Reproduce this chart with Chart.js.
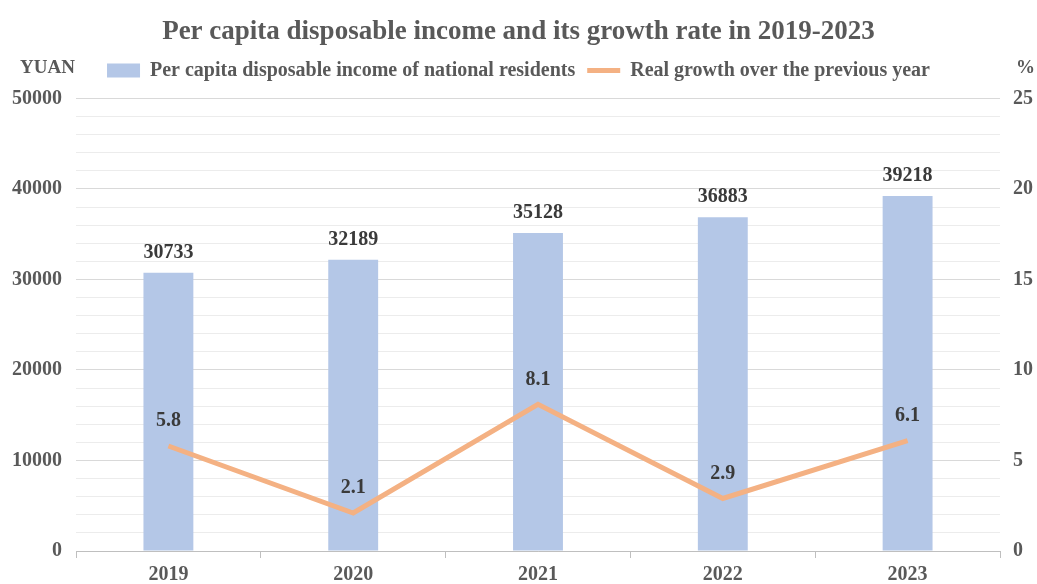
<!DOCTYPE html>
<html>
<head>
<meta charset="utf-8">
<script src="https://cdn.jsdelivr.net/npm/chart.js@4/dist/chart.umd.min.js"></script>
<style>
  html, body { margin: 0; padding: 0; background: #fff; }
  #wrap { width: 1037px; height: 584px; }
</style>
</head>
<body>
<div id="wrap"><canvas id="incomeChart"></canvas></div>
<script>
const years = ['2019', '2020', '2021', '2022', '2023'];
const incomeValues = [30733, 32189, 35128, 36883, 39218];
const growthValues = [5.8, 2.1, 8.1, 2.9, 6.1];

const SERIF = "'Liberation Serif', 'Times New Roman', serif";
const GREY = '#595959';

// values above bars and line points
const valueLabels = {
  id: 'valueLabels',
  afterDatasetsDraw(chart) {
    const ctx = chart.ctx;
    ctx.save();
    ctx.font = 'bold 20px ' + SERIF;
    ctx.fillStyle = '#3a3a3a';
    ctx.textAlign = 'center';
    ctx.textBaseline = 'middle';
    chart.getDatasetMeta(0).data.forEach((bar, i) => {
      ctx.fillText(String(incomeValues[i]), bar.x, bar.y - 20);
    });
    chart.getDatasetMeta(1).data.forEach((pt, i) => {
      ctx.fillText(growthValues[i].toFixed(1), pt.x, pt.y - 25);
    });
    ctx.restore();
  }
};

// unit captions above the two axes
const unitCaptions = {
  id: 'unitCaptions',
  afterDraw(chart) {
    const ctx = chart.ctx;
    ctx.save();
    ctx.font = 'bold 19px ' + SERIF;
    ctx.fillStyle = GREY;
    ctx.textBaseline = 'middle';
    ctx.textAlign = 'left';
    ctx.fillText('YUAN', 20, 68);
    ctx.fillText('%', 1016, 68);
    ctx.restore();
  }
};

// extra room under the legend so the plot starts lower
const legendGap = {
  id: 'legendGap',
  beforeInit(chart) {
    const fit = chart.legend.fit;
    chart.legend.fit = function () {
      fit.call(this);
      this.height += 8;
    };
  }
};

new Chart(document.getElementById('incomeChart'), {
  data: {
    labels: years,
    datasets: [
      {
        type: 'bar',
        label: 'Per capita disposable income of national residents',
        data: incomeValues,
        backgroundColor: '#b4c7e7',
        barPercentage: 0.27,
        categoryPercentage: 1,
        yAxisID: 'y',
        order: 2,
        pointStyle: 'rect'
      },
      {
        type: 'line',
        label: 'Real growth over the previous year',
        data: growthValues,
        borderColor: '#f4b183',
        backgroundColor: '#f4b183',
        borderWidth: 5,
        pointRadius: 0,
        tension: 0,
        yAxisID: 'y1',
        order: 1,
        pointStyle: 'line'
      }
    ]
  },
  options: {
    responsive: true,
    maintainAspectRatio: false,
    animation: false,
    layout: { padding: { left: 0, right: 0, top: 0, bottom: 0 } },
    plugins: {
      title: {
        display: true,
        text: 'Per capita disposable income and its growth rate in 2019-2023',
        color: GREY,
        font: { family: SERIF, size: 27, weight: 'bold' },
        padding: { top: 16, bottom: 0 }
      },
      legend: {
        display: true,
        labels: {
          usePointStyle: true,
          pointStyleWidth: 33,
          boxHeight: 14,
          color: GREY,
          font: { family: SERIF, size: 20, weight: 'bold' },
          padding: 12,
          sort: (a, b) => a.datasetIndex - b.datasetIndex
        }
      },
      tooltip: { enabled: false }
    },
    scales: {
      x: {
        afterFit(scale) { scale.height = 33; },
        grid: {
          display: true,
          drawOnChartArea: false,
          drawTicks: true,
          tickLength: 7,
          color: '#bfbfbf'
        },
        border: { display: true, color: '#bfbfbf' },
        ticks: {
          color: GREY,
          font: { family: SERIF, size: 20, weight: 'bold' },
          padding: 5
        }
      },
      y: {
        position: 'left',
        min: 0,
        max: 50000,
        afterFit(scale) { scale.width = 76; },
        ticks: {
          stepSize: 2000,
          autoSkip: false,
          color: GREY,
          font: { family: SERIF, size: 20, weight: 'bold' },
          padding: 14,
          callback: v => (v % 10000 === 0 ? String(v) : '')
        },
        grid: {
          color: ctx => (ctx.tick && ctx.tick.value % 10000 === 0 ? '#d9d9d9' : '#ececec'),
          drawTicks: false
        },
        border: { display: false }
      },
      y1: {
        position: 'right',
        min: 0,
        max: 25,
        afterFit(scale) { scale.width = 37; },
        ticks: {
          stepSize: 5,
          color: GREY,
          font: { family: SERIF, size: 20, weight: 'bold' },
          padding: 13
        },
        grid: { display: false, drawTicks: false },
        border: { display: false }
      }
    }
  },
  plugins: [valueLabels, unitCaptions, legendGap]
});
</script>
</body>
</html>
